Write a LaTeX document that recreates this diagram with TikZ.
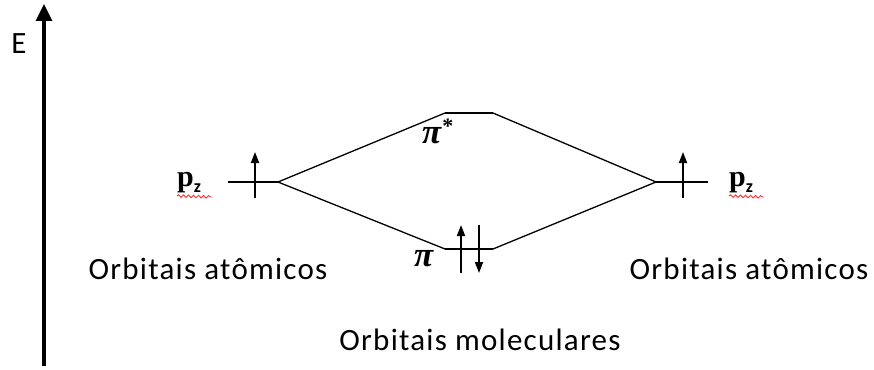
\documentclass[tikz,border=0pt]{standalone}
\usepackage{fontspec}
\setmainfont{Carlito}
\newfontfamily\labfont[LetterSpace=4]{Carlito}
\newfontfamily\pfont{Liberation Serif}
\usetikzlibrary{arrows.meta,decorations.pathmorphing}
\begin{document}
\begin{tikzpicture}[x=1pt,y=-1pt,
  level/.style={line width=1.7pt},
  conn/.style={line width=1.3pt},
  spin/.style={line width=1.8pt,-{Triangle[length=11pt,width=8pt]}},
  lbl/.style={font=\fontsize{31}{32}\selectfont\labfont,text=black,anchor=base,inner sep=0pt},
  plab/.style={anchor=base west,inner sep=0pt},
  squig/.style={red!80,line width=0.9pt,decorate,decoration={snake,amplitude=1.3pt,segment length=5pt}}]
\useasboundingbox (0,0) rectangle (874,369);
% energy axis
\coordinate (ab) at (44,366);
\coordinate (at) at (44,4);
\draw[line width=3.2pt,-{Triangle[length=17pt,width=16pt]}] (ab) -- (at);
\node[font=\fontsize{31}{31}\selectfont,anchor=base,inner sep=0pt] (E) at (19,53) {E};
% levels
\coordinate (L1) at (228,182); \coordinate (L2) at (278,182);
\coordinate (R1) at (656,182); \coordinate (R2) at (708,182);
\coordinate (S1) at (445,113); \coordinate (S2) at (493,113);
\coordinate (P1) at (445,249); \coordinate (P2) at (493,249);
\draw[level] (L1) -- (L2);
\draw[level] (R1) -- (R2);
\draw[level] (S1) -- (S2);
\draw[level] (P1) -- (P2);
\draw[conn] (S1) -- (L2) -- (P1);
\draw[conn] (S2) -- (R1) -- (P2);
% spins
\coordinate (la0) at (255,198); \coordinate (la1) at (255,152);
\coordinate (ra0) at (683,198); \coordinate (ra1) at (683,152);
\coordinate (pu0) at (461,273); \coordinate (pu1) at (461,225);
\coordinate (pd0) at (479,225); \coordinate (pd1) at (479,273);
\draw[spin] (la0) -- (la1);
\draw[spin] (ra0) -- (ra1);
\draw[spin] (pu0) -- (pu1);
\draw[spin] (pd0) -- (pd1);
% p_z labels
\node[plab] (pzl) at (177,186) {\fontsize{30}{30}\pfont\bfseries p\raisebox{-6pt}{\fontsize{18}{18}\selectfont\rmfamily z}};
\node[plab] (pzr) at (729,186) {\fontsize{30}{30}\pfont\bfseries p\raisebox{-6pt}{\fontsize{18}{18}\selectfont\rmfamily z}};
\coordinate (wl0) at (177,196); \coordinate (wl1) at (212,197);
\coordinate (wr0) at (729,196); \coordinate (wr1) at (764,197);
\draw[squig] (wl0) -- (wl1);
\draw[squig] (wr0) -- (wr1);
% pi labels
\node[plab] (pis) at (422,143) {\fontsize{35}{35}\pfont\bfseries\itshape π\hspace{1pt}\raisebox{10pt}{\fontsize{22}{22}\selectfont\upshape *}};
\node[plab] (pi) at (414,266) {\fontsize{35}{35}\pfont\bfseries\itshape π};
% captions
\node[lbl] (oal) at (208,279) {Orbitais atômicos};
\node[lbl] (oar) at (749,279) {Orbitais atômicos};
\node[lbl] (om) at (480,350) {Orbitais moleculares};
\end{tikzpicture}
\end{document}
